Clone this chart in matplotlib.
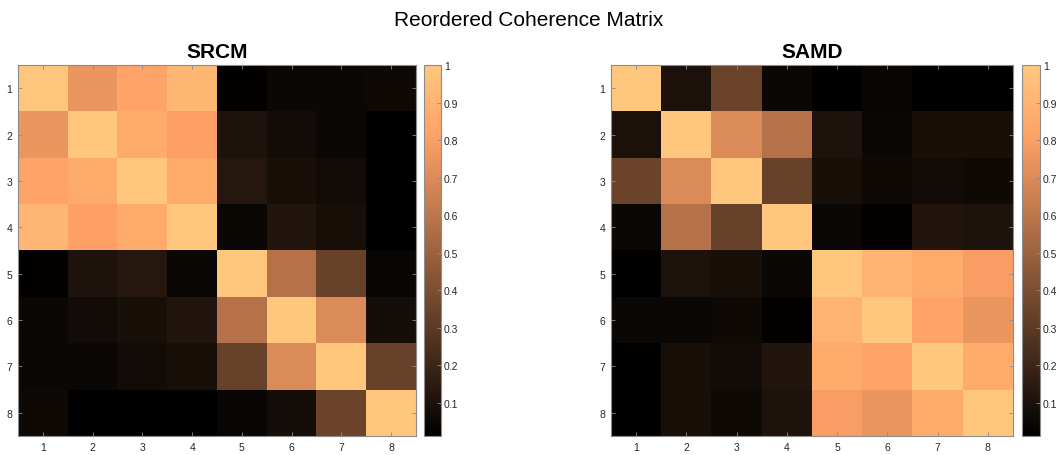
import numpy as np
import matplotlib
matplotlib.use("Agg")
import matplotlib.pyplot as plt

plt.rcParams['font.family'] = ['Liberation Sans', 'DejaVu Sans']

labels = [1, 2, 3, 4, 5, 6, 7, 8]

srcm = np.array([
    [1.00, 0.75, 0.83, 0.92, 0.02, 0.05, 0.05, 0.06],
    [0.75, 1.00, 0.86, 0.81, 0.11, 0.07, 0.05, 0.012],
    [0.83, 0.86, 1.00, 0.86, 0.13, 0.09, 0.07, 0.012],
    [0.91, 0.81, 0.86, 1.00, 0.05, 0.12, 0.09, 0.012],
    [0.02, 0.11, 0.13, 0.05, 1.00, 0.58, 0.34, 0.04],
    [0.05, 0.07, 0.09, 0.12, 0.58, 1.00, 0.70, 0.08],
    [0.05, 0.05, 0.07, 0.09, 0.34, 0.70, 1.00, 0.34],
    [0.06, 0.012, 0.012, 0.012, 0.04, 0.08, 0.35, 1.00],
])

samd = np.array([
    [1.00, 0.10, 0.35, 0.05, 0.012, 0.04, 0.012, 0.012],
    [0.10, 1.00, 0.70, 0.58, 0.11, 0.05, 0.09, 0.09],
    [0.35, 0.70, 1.00, 0.34, 0.09, 0.06, 0.07, 0.06],
    [0.05, 0.58, 0.34, 1.00, 0.05, 0.02, 0.12, 0.11],
    [0.012, 0.11, 0.09, 0.05, 1.00, 0.90, 0.86, 0.79],
    [0.05, 0.05, 0.06, 0.02, 0.90, 1.00, 0.83, 0.75],
    [0.012, 0.09, 0.07, 0.12, 0.86, 0.83, 1.00, 0.86],
    [0.012, 0.09, 0.06, 0.11, 0.79, 0.75, 0.86, 1.00],
])

cbar_ticks = [0.1, 0.2, 0.3, 0.4, 0.5, 0.6, 0.7, 0.8, 0.9, 1.0]

W, H = 1058, 456
fig = plt.figure(figsize=(W / 100, H / 100), dpi=100)

edge = '#8c8c8c'
txt = '#262626'


def px(x0, y0, x1, y1):
    return [x0 / W, 1 - y1 / H, (x1 - x0) / W, (y1 - y0) / H]


def panel(mat, title, ax_box, cb_box):
    ax = fig.add_axes(px(*ax_box))
    im = ax.imshow(mat, cmap='copper', vmin=mat.min(), vmax=mat.max(),
                   aspect='auto', interpolation='nearest',
                   extent=(0.5, 8.5, 8.5, 0.5))
    ax.set_xticks(labels)
    ax.set_yticks(labels)
    ax.set_xticklabels(labels)
    ax.set_yticklabels(labels)
    ax.tick_params(direction='in', length=3, width=0.6, color=edge,
                   labelsize=7.5, labelcolor=txt, top=True, right=True, pad=4)
    for s in ax.spines.values():
        s.set_color(edge)
        s.set_linewidth(0.8)
    ax.set_title(title, fontsize=15, fontweight='bold', pad=6)

    cax = fig.add_axes(px(*cb_box))
    cb = fig.colorbar(im, cax=cax)
    cb.set_ticks(cbar_ticks)
    cb.set_ticklabels(['%g' % t for t in cbar_ticks])
    cax.tick_params(direction='in', length=3, width=0.6, color=edge,
                    labelsize=7.5, labelcolor=txt, pad=2)
    cb.outline.set_edgecolor(edge)
    cb.outline.set_linewidth(0.8)
    return ax


panel(srcm, 'SRCM', (18, 66, 416, 437), (424, 66, 441, 437))
panel(samd, 'SAMD', (611, 66, 1013, 437), (1022, 66, 1040, 437))

fig.text(0.5, 1 - 20 / H, 'Reordered Coherence Matrix', ha='center', va='center',
         fontsize=15, color='black')

fig.savefig('out.png', dpi=100)
